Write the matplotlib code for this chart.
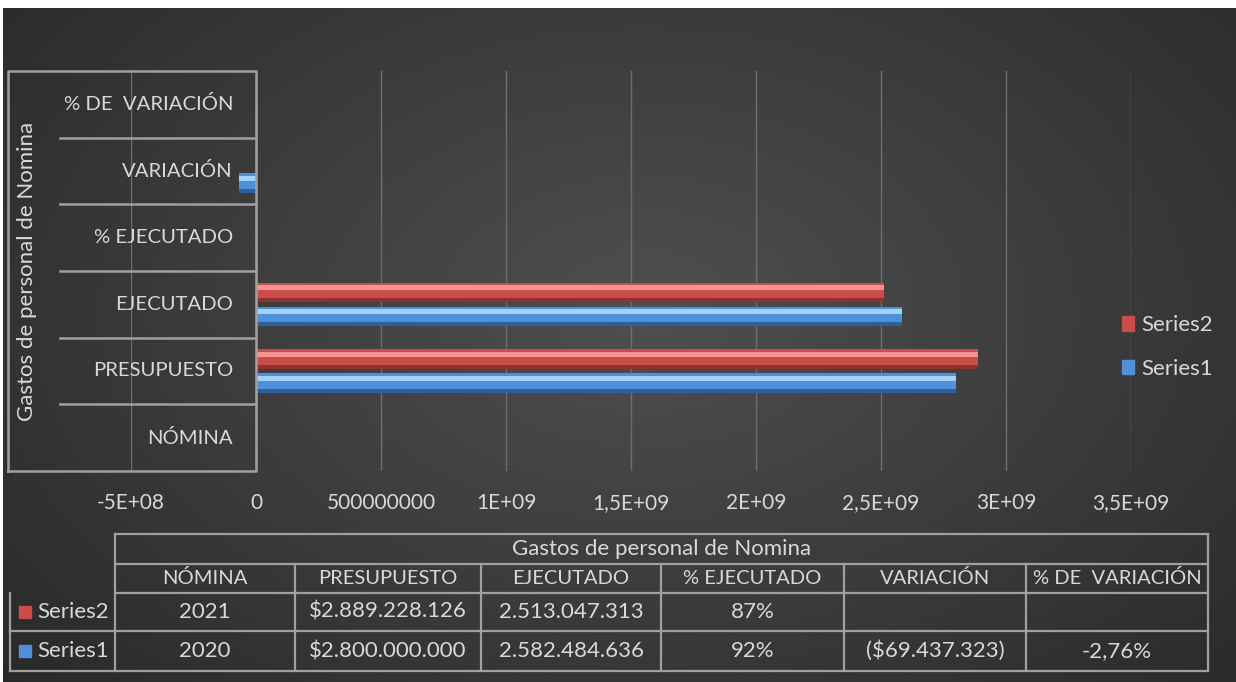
import matplotlib.pyplot as plt
import matplotlib.patches as mpatches
import numpy as np

plt.rcParams['font.family'] = ['Lato', 'DejaVu Sans']

# datos
categorias = ['NÓMINA', 'PRESUPUESTO', 'EJECUTADO', '% EJECUTADO', 'VARIACIÓN', '% DE  VARIACIÓN']
series1 = [2020, 2800000000, 2582484636, 0.92, -69437323, -0.0276]
series2 = [2021, 2889228126, 2513047313, 0.87, np.nan, np.nan]
nombres = ['Series1', 'Series2']
titulo = 'Gastos de personal de Nomina'
xticks = [-5e8, 0, 5e8, 1e9, 1.5e9, 2e9, 2.5e9, 3e9, 3.5e9]
xticklabels = ['-5E+08', '0', '500000000', '1E+09', '1,5E+09', '2E+09', '2,5E+09', '3E+09', '3,5E+09']


def pesos(v):
    s = '{:,.0f}'.format(abs(v)).replace(',', '.')
    return '(${})'.format(s) if v < 0 else '${}'.format(s)


def puntos(v):
    return '{:,.0f}'.format(v).replace(',', '.')


def pct(v, dec=0):
    if np.isnan(v):
        return ''
    return ('{:.' + str(dec) + 'f}%').format(v * 100).replace('.', ',')


def fila(vals):
    out = ['{:.0f}'.format(vals[0]), pesos(vals[1]), puntos(vals[2]), pct(vals[3])]
    out.append('' if np.isnan(vals[4]) else pesos(vals[4]))
    out.append(pct(vals[5], 2))
    return out


W, H = 1236, 682
fig = plt.figure(figsize=(W / 100, H / 100), dpi=100, facecolor='white')

# fondo con degradado
bg = fig.add_axes([3 / W, 0, 1 - 3 / W, 1 - 8 / H], zorder=-10)
yy, xx = np.mgrid[0:1:300j, 0:1:600j]
r = np.sqrt(((xx - 0.52) / 0.75) ** 2 + ((yy - 0.45) / 0.9) ** 2)
g = np.clip(0.31 - 0.16 * r, 0.14, 0.31)
bg.imshow(np.dstack([g, g, g]), aspect='auto', extent=[0, 1, 0, 1])
bg.axis('off')

txt = '#d9d9d9'
linea = '#a0a0a0'
rojo = ['#cc4c4a', '#f39492', '#93302f']
azul = ['#4f90d8', '#a2d2f8', '#2d609f']

ax = fig.add_axes([131 / W, 1 - 471 / H, 1000 / W, 400 / H])
ax.set_facecolor('none')
y = np.arange(len(categorias))
h = 0.29
for vals, off, c in [(series2, 0.18, rojo), (series1, -0.18, azul)]:
    v = np.array(vals, dtype=float)
    ax.barh(y + off, v, height=h, color=c[0], zorder=3)
    ax.barh(y + off + h * 0.24, v, height=h * 0.26, color=c[1], zorder=4)
    ax.barh(y + off - h * 0.40, v, height=h * 0.2, color=c[2], zorder=4)

ax.set_xlim(-5e8, 3.5e9)
ax.set_ylim(-0.5, 5.5)
ax.set_xticks(xticks)
ax.set_xticklabels(xticklabels, color=txt, fontsize=15)
ax.tick_params(axis='x', length=0, pad=16)
ax.set_yticks([])
for s in ax.spines.values():
    s.set_visible(False)
ax.grid(axis='x', color='#6e6e6e', lw=1, zorder=1)

# caja de categorias
ty = ax.get_yaxis_transform()
x0, xs, xa = -0.123, -0.071, 0.125
ax.plot([x0, xa, xa, x0, x0], [-0.5, -0.5, 5.5, 5.5, -0.5], color=linea, lw=1.8,
        transform=ty, clip_on=False, zorder=5)
for k in range(1, len(categorias)):
    ax.plot([xs, xa], [k - 0.5, k - 0.5], color=linea, lw=1.8, transform=ty, clip_on=False, zorder=5)
for k, cat in enumerate(categorias):
    ax.text(0.102, k, cat, transform=ty, ha='right', va='center', color=txt, fontsize=14.6)
ax.text(-0.104, 2.5, titulo, transform=ty, rotation=90, ha='center', va='center',
        color=txt, fontsize=16)

# leyenda
hs = [mpatches.Patch(color=rojo[0], label=nombres[1]), mpatches.Patch(color=azul[0], label=nombres[0])]
leg = fig.legend(handles=hs, loc='center left', bbox_to_anchor=(1102 / W, 1 - 347 / H), frameon=False,
                 fontsize=16, handlelength=0.55, handleheight=0.6, handletextpad=0.3,
                 labelspacing=1.05, labelcolor=txt)

# tabla de datos
ov = fig.add_axes([0, 0, 1, 1], zorder=6)
ov.set_xlim(0, W)
ov.set_ylim(H, 0)
ov.axis('off')
cols = [10, 115, 295, 481, 661, 844, 1026, 1208]
rows = [534, 564, 593, 631, 671]
kw = dict(color=linea, lw=1.6)
ov.plot([cols[1], cols[-1]], [rows[0], rows[0]], **kw)
for yv in rows[1:3]:
    ov.plot([cols[1], cols[-1]], [yv, yv], **kw)
for yv in rows[3:]:
    ov.plot([cols[0], cols[-1]], [yv, yv], **kw)
ov.plot([cols[0], cols[0]], [rows[2], rows[-1]], **kw)
ov.plot([cols[1], cols[1]], [rows[0], rows[-1]], **kw)
ov.plot([cols[-1], cols[-1]], [rows[0], rows[-1]], **kw)
for xv in cols[2:-1]:
    ov.plot([xv, xv], [rows[1], rows[-1]], **kw)

ov.text((cols[1] + cols[-1]) / 2, (rows[0] + rows[1]) / 2, titulo, ha='center', va='center',
        color=txt, fontsize=16)
for j, cat in enumerate(categorias):
    ov.text((cols[j + 1] + cols[j + 2]) / 2, (rows[1] + rows[2]) / 2, cat, ha='center',
            va='center', color=txt, fontsize=14.5)
for i, (vals, nom, c) in enumerate([(series2, nombres[1], rojo), (series1, nombres[0], azul)]):
    yc = (rows[2 + i] + rows[3 + i]) / 2
    ov.add_patch(mpatches.Rectangle((19, yc - 6), 12, 12, color=c[0]))
    ov.text(37, yc, nom, ha='left', va='center', color=txt, fontsize=16)
    for j, s in enumerate(fila(vals)):
        ov.text((cols[j + 1] + cols[j + 2]) / 2, yc, s, ha='center', va='center',
                color=txt, fontsize=16)

fig.savefig('out.png', dpi=100)
